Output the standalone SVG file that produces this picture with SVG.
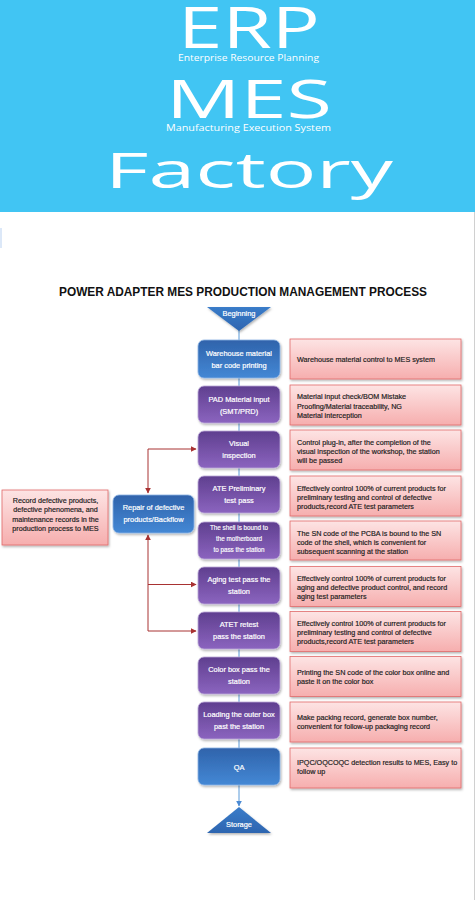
<svg xmlns="http://www.w3.org/2000/svg" width="475" height="900" viewBox="0 0 475 900">
<defs>
<linearGradient id="gBlue" x1="0" y1="0" x2="0" y2="1"><stop offset="0" stop-color="#2f63ab"/><stop offset="1" stop-color="#4488d5"/></linearGradient>
<linearGradient id="gPurple" x1="0" y1="0" x2="0" y2="1"><stop offset="0" stop-color="#5f3f8f"/><stop offset="1" stop-color="#8b64bf"/></linearGradient>
<linearGradient id="gPink" x1="0" y1="0" x2="0" y2="1"><stop offset="0" stop-color="#fde4e4"/><stop offset="1" stop-color="#f6aeae"/></linearGradient>
<linearGradient id="gTri" x1="0" y1="0" x2="0" y2="1"><stop offset="0" stop-color="#3a7cc9"/><stop offset="1" stop-color="#2d65b0"/></linearGradient>
<filter id="sh" x="-10%" y="-10%" width="125%" height="135%"><feDropShadow dx="1" dy="1.5" stdDeviation="1" flood-color="#000" flood-opacity="0.3"/></filter>
<marker id="aRed" viewBox="0 0 10 10" refX="9" refY="5" markerWidth="6" markerHeight="6" orient="auto" markerUnits="userSpaceOnUse"><path d="M0,0 L10,5 L0,10 z" fill="#a83232"/></marker>
<marker id="aBlue" viewBox="0 0 10 10" refX="9" refY="5" markerWidth="6" markerHeight="6" orient="auto" markerUnits="userSpaceOnUse"><path d="M0,0 L10,5 L0,10 z" fill="#4a8ad4"/></marker>
</defs>
<style>
.banner{font-family:"Open Sans","Noto Sans",sans-serif;fill:#fff}
.title{font-family:"Liberation Sans",Arial,sans-serif;font-weight:bold;font-size:12.5px;fill:#111}
.nb{fill:url(#gBlue);stroke:#8db4e4;stroke-width:0.8;filter:url(#sh)}
.np{fill:url(#gPurple);stroke:#bba8d8;stroke-width:0.8;filter:url(#sh)}
.pk{fill:url(#gPink);stroke:#e06a6a;stroke-width:0.8;filter:url(#sh)}
.tri{fill:url(#gTri);filter:url(#sh)}
.nt{font-family:"Liberation Sans",Arial,sans-serif;font-size:7.4px;fill:#fff;stroke:#fff;stroke-width:0.2;text-anchor:middle}
.ns{font-family:"Liberation Sans",Arial,sans-serif;font-size:6.3px;fill:#fff;stroke:#fff;stroke-width:0.15;text-anchor:middle}
.dt{font-family:"Liberation Sans",Arial,sans-serif;font-size:7.2px;fill:#1c1c1c;stroke:#1c1c1c;stroke-width:0.18}
.lt{font-family:"Liberation Sans",Arial,sans-serif;font-size:7.2px;fill:#1c1c1c;stroke:#1c1c1c;stroke-width:0.18;text-anchor:middle}
.cb{stroke:#5a9ad8;stroke-width:1;fill:none}
.cr{stroke:#a83232;stroke-width:1;fill:none}
</style>
<rect width="475" height="900" fill="#fff"/>
<g id="banner">
<rect x="0" y="0" width="475" height="212" fill="#41c5f3"/>
<text class="banner" x="178" y="48" font-size="57" textLength="142" lengthAdjust="spacingAndGlyphs">ERP</text>
<text class="banner" x="178" y="60.5" font-size="8.4" textLength="141" lengthAdjust="spacingAndGlyphs">Enterprise Resource Planning</text>
<text class="banner" x="166" y="118" font-size="53" textLength="166" lengthAdjust="spacingAndGlyphs">MES</text>
<text class="banner" x="166" y="130.5" font-size="8.4" textLength="165" lengthAdjust="spacingAndGlyphs">Manufacturing Execution System</text>
<text class="banner" x="105" y="188" font-size="49" textLength="288" lengthAdjust="spacingAndGlyphs">Factory</text>
</g>
<rect x="0" y="228" width="2" height="20" fill="#dce8f8"/>
<line x1="474.5" y1="212" x2="474.5" y2="900" stroke="#d0d0d0" stroke-width="1"/>
<text class="title" x="59" y="296" textLength="368" lengthAdjust="spacingAndGlyphs">POWER ADAPTER MES PRODUCTION MANAGEMENT PROCESS</text>
<g id="connectors">
<line class="cb" x1="239" y1="330" x2="239" y2="748"/>
<path class="cb" d="M239,785 V806" marker-end="url(#aBlue)"/>
<path class="cr" d="M148,449 H196" marker-end="url(#aRed)"/>
<path class="cr" d="M148,449 V493" marker-end="url(#aRed)"/>
<path class="cr" d="M148,631 V535" marker-end="url(#aRed)"/>
<path class="cr" d="M148,584.5 H196" marker-end="url(#aRed)"/>
<path class="cr" d="M148,631 H196" marker-end="url(#aRed)"/>
</g>
<g id="begin"><polygon class="tri" points="207,307 271,307 239,331"/><text class="nt" x="239" y="316" font-size="7.6">Beginning</text></g>
<g id="n1"><rect class="nb" x="198" y="340" width="82" height="38" rx="6"/><text class="nt" x="239" y="356">Warehouse material</text><text class="nt" x="239" y="368">bar code printing</text></g>
<g id="n2"><rect class="np" x="198" y="386" width="82" height="37" rx="6"/><text class="nt" x="239" y="401.5">PAD Material input</text><text class="nt" x="239" y="413.5">(SMT/PRD)</text></g>
<g id="n3"><rect class="np" x="198" y="431" width="82" height="37" rx="6"/><text class="nt" x="239" y="445.5">Visual</text><text class="nt" x="239" y="457.5">inspection</text></g>
<g id="n4"><rect class="np" x="198" y="476" width="82" height="37" rx="6"/><text class="nt" x="239" y="490.5">ATE Preliminary</text><text class="nt" x="239" y="502.5">test pass</text></g>
<g id="n5"><rect class="np" x="198" y="522" width="82" height="37" rx="6"/><text class="ns" x="239" y="530">The shell is bound to</text><text class="ns" x="239" y="541">the motherboard</text><text class="ns" x="239" y="552">to pass the station</text></g>
<g id="n6"><rect class="np" x="198" y="567" width="82" height="37" rx="6"/><text class="nt" x="239" y="581.5">Aging test pass the</text><text class="nt" x="239" y="593.5">station</text></g>
<g id="n7"><rect class="np" x="198" y="612" width="82" height="37" rx="6"/><text class="nt" x="239" y="626.5">ATET retest</text><text class="nt" x="239" y="638.5">pass the station</text></g>
<g id="n8"><rect class="np" x="198" y="657" width="82" height="37" rx="6"/><text class="nt" x="239" y="671.5">Color box pass the</text><text class="nt" x="239" y="683.5">station</text></g>
<g id="n9"><rect class="np" x="198" y="702" width="82" height="37" rx="6"/><text class="nt" x="239" y="717">Loading the outer box</text><text class="nt" x="239" y="729">past the station</text></g>
<g id="n10"><rect class="nb" x="198" y="748" width="82" height="37" rx="6"/><text class="nt" x="239" y="769.5">QA</text></g>
<g id="storage"><polygon class="tri" points="239,807 271,833 207,833"/><text class="nt" x="239" y="826.5">Storage</text></g>
<g id="repair"><rect class="nb" x="113" y="495" width="81" height="38" rx="6"/><text class="nt" x="153.5" y="509.5">Repair of defective</text><text class="nt" x="153.5" y="521.5">products/Backflow</text></g>
<g id="record"><rect class="pk" x="2" y="490" width="106" height="55"/><text class="lt" x="55.5" y="503.2">Record defective products,</text><text class="lt" x="55.5" y="512.4">defective phenomena, and</text><text class="lt" x="55.5" y="521.6">maintenance records in the</text><text class="lt" x="55.5" y="530.8">production process to MES</text></g>
<g id="d1"><rect class="pk" x="290" y="339" width="171" height="40"/><text class="dt" x="297" y="361.5">Warehouse material control to MES system</text></g>
<g id="d2"><rect class="pk" x="290" y="385" width="171" height="40"/><text class="dt" x="297" y="399.3">Material input check/BOM Mistake</text><text class="dt" x="297" y="408.6">Proofing/Material traceability, NG</text><text class="dt" x="297" y="417.9">Material interception</text></g>
<g id="d3"><rect class="pk" x="290" y="430" width="171" height="40"/><text class="dt" x="297" y="444.5">Control plug-in, after the completion of the</text><text class="dt" x="297" y="453.5">visual inspection of the workshop, the station</text><text class="dt" x="297" y="462.5">will be passed</text></g>
<g id="d4"><rect class="pk" x="290" y="476" width="171" height="40"/><text class="dt" x="297" y="490.5">Effectively control 100% of current products for</text><text class="dt" x="297" y="499.5">preliminary testing and control of defective</text><text class="dt" x="297" y="508.5">products,record ATE test parameters</text></g>
<g id="d5"><rect class="pk" x="290" y="521" width="171" height="39"/><text class="dt" x="297" y="535.5">The SN code of the PCBA is bound to the SN</text><text class="dt" x="297" y="544.5">code of the shell, which is convenient for</text><text class="dt" x="297" y="553.5">subsequent scanning at the station</text></g>
<g id="d6"><rect class="pk" x="290" y="566.5" width="171" height="40"/><text class="dt" x="297" y="581">Effectively control 100% of current products for</text><text class="dt" x="297" y="590">aging and defective product control, and record</text><text class="dt" x="297" y="599">aging test parameters</text></g>
<g id="d7"><rect class="pk" x="290" y="611.5" width="171" height="40"/><text class="dt" x="297" y="626">Effectively control 100% of current products for</text><text class="dt" x="297" y="635">preliminary testing and control of defective</text><text class="dt" x="297" y="644">products,record ATE test parameters</text></g>
<g id="d8"><rect class="pk" x="290" y="656.5" width="171" height="40"/><text class="dt" x="297" y="674.8">Printing the SN code of the color box online and</text><text class="dt" x="297" y="684.3">paste it on the color box</text></g>
<g id="d9"><rect class="pk" x="290" y="702" width="171" height="40"/><text class="dt" x="297" y="719.8">Make packing record, generate box number,</text><text class="dt" x="297" y="728.5">convenient for follow-up packaging record</text></g>
<g id="d10"><rect class="pk" x="290" y="748" width="171" height="40"/><text class="dt" x="297" y="764.8">IPQC/OQCOQC detection results to MES, Easy to</text><text class="dt" x="297" y="773.8">follow up</text></g>
</svg>
